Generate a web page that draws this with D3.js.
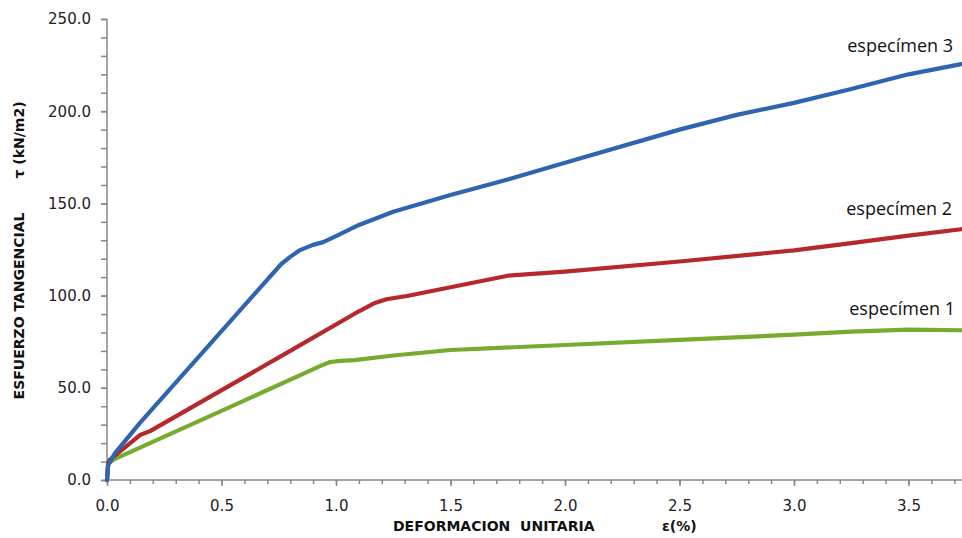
<!DOCTYPE html>
<html>
<head>
<meta charset="utf-8">
<script src="https://cdn.jsdelivr.net/npm/d3@7"></script>
<style>
  html, body { margin: 0; padding: 0; background: #fff; }
  svg { display: block; }
  .tick text { font-family: "DejaVu Sans", Verdana, sans-serif; font-size: 15px; fill: #222; }
  .axis-title { font-family: "DejaVu Sans", Tahoma, sans-serif; font-weight: bold; font-size: 14px; fill: #111; white-space: pre; }
  .series-label { font-family: "Open Sans", sans-serif; font-size: 18px; fill: #111; }
</style>
</head>
<body>
<svg id="chart" width="962" height="538"></svg>
<script>
// Strain (%) and shear stress (kN/m2) for each specimen
const spec1Strain = [0, 0.005, 0.035, 0.5, 0.94, 0.975, 1.02, 1.08, 1.25, 1.5, 2.0, 2.5, 3.0, 3.25, 3.5, 3.73];
const spec1Stress = [0, 9, 11.5, 37.5, 62.3, 64, 64.6, 65, 67.5, 70.5, 73.2, 76, 78.8, 80.5, 81.6, 81.2];

const spec2Strain = [0, 0.005, 0.013, 0.144, 0.188, 0.8, 1.1, 1.17, 1.22, 1.31, 1.5, 1.75, 2.0, 2.5, 3.0, 3.25, 3.5, 3.73];
const spec2Stress = [0, 9, 11, 24.4, 26.5, 70, 91.5, 96, 98, 99.8, 104.5, 110.8, 113, 118.5, 124.5, 128.5, 132.5, 136];

const spec3Strain = [0, 0.005, 0.035, 0.144, 0.76, 0.8, 0.84, 0.9, 0.944, 1.0, 1.1, 1.25, 1.5, 1.75, 2.0, 2.5, 2.75, 3.0, 3.25, 3.5, 3.73];
const spec3Stress = [0, 8, 14.6, 31, 117, 121, 124.5, 127.5, 129, 132.3, 138.3, 145.5, 154.5, 163, 172, 190, 198, 204.5, 212, 220, 225.5];

const seriesNames = ["especímen 1", "especímen 2", "especímen 3"];
const seriesColors = ["#77ab2f", "#b5282c", "#2f64b1"];

const xMajorTicks = [0, 0.5, 1.0, 1.5, 2.0, 2.5, 3.0, 3.5];
const yMajorTicks = [0, 50, 100, 150, 200, 250];

const xTitle = "DEFORMACION\u00A0\u00A0UNITARIA";
const xUnit = "ε(%)";
const yTitle = "ESFUERZO TANGENCIAL";
const yUnit = "τ (kN/m2)";

const series = [
  { name: seriesNames[0], color: seriesColors[0], pts: spec1Strain.map((s, i) => [s, spec1Stress[i]]) },
  { name: seriesNames[1], color: seriesColors[1], pts: spec2Strain.map((s, i) => [s, spec2Stress[i]]) },
  { name: seriesNames[2], color: seriesColors[2], pts: spec3Strain.map((s, i) => [s, spec3Stress[i]]) }
];

const svg = d3.select("#chart");
const plotLeft = 107, plotTop = 19, plotBottom = 480, plotRight = 962;

const x = d3.scaleLinear().domain([0, (plotRight - plotLeft) / 229]).range([plotLeft, plotRight]);
const y = d3.scaleLinear().domain([0, 250]).range([plotBottom, plotTop]);

const axisColor = "#878787";

// x axis: minor ticks every 0.1, labelled majors every 0.5
const xMinor = d3.range(0, 3.75, 0.1).map(v => +v.toFixed(1)).filter(v => x(v) <= plotRight);
const gx = svg.append("g").attr("transform", `translate(0,${plotBottom})`)
  .call(d3.axisBottom(x).tickValues(xMinor).tickSize(4).tickFormat(""));
gx.select(".domain").remove();
gx.selectAll("line").attr("stroke", axisColor).attr("stroke-width", 1.5);
const gxMaj = svg.append("g").attr("transform", `translate(0,${plotBottom})`)
  .call(d3.axisBottom(x).tickValues(xMajorTicks).tickSize(6).tickPadding(14).tickFormat(d3.format(".1f")));
gxMaj.select(".domain").remove();
gxMaj.selectAll("line").attr("stroke", axisColor).attr("stroke-width", 1.5);

// y axis: minor ticks every 10, labelled majors every 50
const yMinor = d3.range(0, 251, 10);
const gy = svg.append("g").attr("transform", `translate(${plotLeft},0)`)
  .call(d3.axisLeft(y).tickValues(yMinor).tickSize(6).tickFormat(""));
gy.select(".domain").remove();
gy.selectAll("line").attr("stroke", axisColor).attr("stroke-width", 1.5);
const gyMaj = svg.append("g").attr("transform", `translate(${plotLeft},0)`)
  .call(d3.axisLeft(y).tickValues(yMajorTicks).tickSize(6).tickPadding(10).tickFormat(d3.format(".1f")));
gyMaj.select(".domain").remove();
gyMaj.selectAll("line").attr("stroke", axisColor).attr("stroke-width", 1.5);

// axis lines
svg.append("line").attr("x1", plotLeft).attr("x2", plotRight).attr("y1", plotBottom).attr("y2", plotBottom)
  .attr("stroke", axisColor).attr("stroke-width", 1.5);
svg.append("line").attr("x1", plotLeft).attr("x2", plotLeft).attr("y1", plotTop).attr("y2", plotBottom)
  .attr("stroke", axisColor).attr("stroke-width", 1.5);

// curves
const line = d3.line().x(d => x(d[0])).y(d => y(d[1])).curve(d3.curveLinear);
svg.append("g").selectAll("path").data(series).join("path")
  .attr("d", d => line(d.pts))
  .attr("fill", "none")
  .attr("stroke", d => d.color)
  .attr("stroke-width", 4.2)
  .attr("stroke-linejoin", "round")
  .attr("stroke-linecap", "round");

// series labels, right-aligned above each curve's end
const labelOffsets = [[-7, -15], [-10, -14], [-9, -12]];
svg.append("g").selectAll("text").data(series).join("text")
  .attr("class", "series-label")
  .attr("text-anchor", "end")
  .attr("x", (d, i) => plotRight + labelOffsets[i][0])
  .attr("y", (d, i) => {
    const last = d.pts[d.pts.length - 1];
    return y(last[1]) + labelOffsets[i][1];
  })
  .text(d => d.name);

// axis titles
svg.append("text").attr("class", "axis-title").attr("x", 393).attr("y", 531).text(xTitle);
svg.append("text").attr("class", "axis-title").attr("x", 662).attr("y", 531).text(xUnit);
svg.append("text").attr("class", "axis-title").attr("text-anchor", "middle")
  .attr("transform", "translate(24,306) rotate(-90)").text(yTitle);
svg.append("text").attr("class", "axis-title").attr("text-anchor", "middle")
  .attr("transform", "translate(24,140) rotate(-90)").text(yUnit);
</script>
</body>
</html>
